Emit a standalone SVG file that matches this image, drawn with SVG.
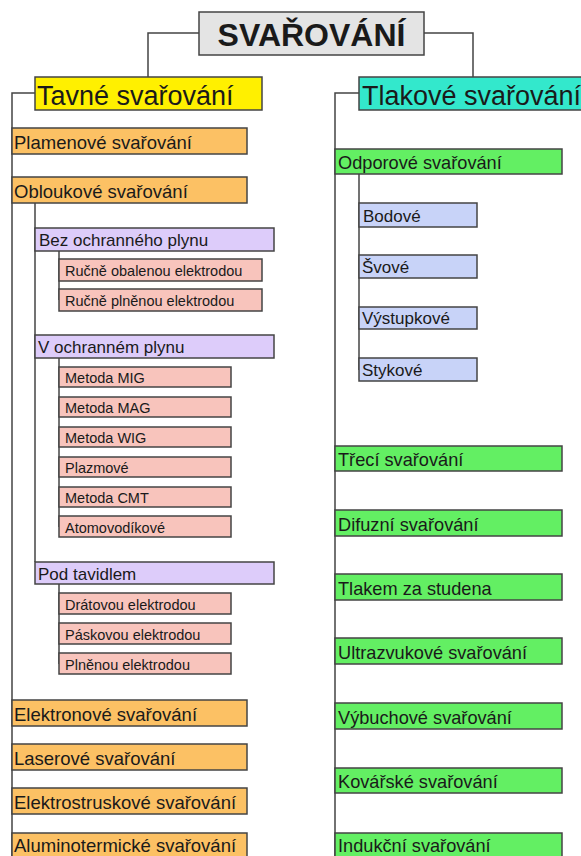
<svg xmlns="http://www.w3.org/2000/svg" width="581" height="856" viewBox="0 0 581 856">
<style>
.n rect{stroke:#444;stroke-width:1.5}
text{font-family:"Liberation Sans",Arial,sans-serif;fill:#1a1a1a}
.root{fill:#e4e4e4}
.yel{fill:#fff000}
.cya{fill:#33e8cc}
.ora{fill:#fcc164}
.pur{fill:#ddccfa}
.pin{fill:#f8c4bc}
.gre{fill:#63ef63}
.blu{fill:#c8d3f8}
.t1{font-size:18.5px}
.t2{font-size:17px}
.t3{font-size:14.5px}
.tb{font-size:17px}
.tg{font-size:18.2px}
.big{font-size:27px}
#conn path{fill:none;stroke:#444;stroke-width:1.5}
</style>
<rect width="581" height="856" fill="#fff"/>
<g id="conn">
<path d="M199 33H148V77"/>
<path d="M424 33H473V77"/>
<path d="M35 93H12V856"/>
<path d="M359 93H335V856"/>
<path d="M35 203V562"/>
<path d="M59 251V300"/>
<path d="M59 358V527"/>
<path d="M59 584V664"/>
<path d="M359 174V370"/>
</g>
<g id="root" class="n"><rect class="root" x="199" y="12" width="225" height="43"/><text x="311.5" y="46" text-anchor="middle" font-size="32" font-weight="bold">SVAŘOVÁNÍ</text></g>
<g id="tavne" class="n"><rect class="yel" x="35" y="77" width="227" height="33"/><text class="big" x="37" y="105">Tavné svařování</text></g>
<g id="tlakove" class="n"><rect class="cya" x="359" y="77" width="224" height="33"/><text class="big" x="362" y="105">Tlakové svařování</text></g>
<g id="plamenove" class="n"><rect class="ora" x="12" y="128" width="235" height="26"/><text class="t1" x="14" y="149">Plamenové svařování</text></g>
<g id="obloukove" class="n"><rect class="ora" x="12" y="177" width="235" height="26"/><text class="t1" x="14" y="198">Obloukové svařování</text></g>
<g id="bez" class="n"><rect class="pur" x="35" y="228" width="239" height="23"/><text class="t2" x="39" y="246">Bez ochranného plynu</text></g>
<g id="rucne-obal" class="n"><rect class="pin" x="59" y="259" width="203" height="22"/><text class="t3" x="65" y="276">Ručně obalenou elektrodou</text></g>
<g id="rucne-pln" class="n"><rect class="pin" x="59" y="289" width="203" height="22"/><text class="t3" x="65" y="306">Ručně plněnou elektrodou</text></g>
<g id="vochr" class="n"><rect class="pur" x="35" y="335" width="239" height="23"/><text class="t2" x="38" y="353">V ochranném plynu</text></g>
<g id="mig" class="n"><rect class="pin" x="59" y="367" width="172" height="20"/><text class="t3" x="65" y="383">Metoda MIG</text></g>
<g id="mag" class="n"><rect class="pin" x="59" y="397" width="172" height="20"/><text class="t3" x="65" y="413">Metoda MAG</text></g>
<g id="wig" class="n"><rect class="pin" x="59" y="427" width="172" height="20"/><text class="t3" x="65" y="443">Metoda WIG</text></g>
<g id="plazmove" class="n"><rect class="pin" x="59" y="457" width="172" height="20"/><text class="t3" x="65" y="473">Plazmové</text></g>
<g id="cmt" class="n"><rect class="pin" x="59" y="487" width="172" height="20"/><text class="t3" x="65" y="503">Metoda CMT</text></g>
<g id="atomo" class="n"><rect class="pin" x="59" y="516" width="172" height="21"/><text class="t3" x="65" y="533">Atomovodíkové</text></g>
<g id="pod" class="n"><rect class="pur" x="35" y="562" width="239" height="22"/><text class="t2" x="38" y="580">Pod tavidlem</text></g>
<g id="dratovou" class="n"><rect class="pin" x="59" y="593" width="172" height="21"/><text class="t3" x="65" y="610">Drátovou elektrodou</text></g>
<g id="paskovou" class="n"><rect class="pin" x="59" y="623" width="172" height="21"/><text class="t3" x="65" y="640">Páskovou elektrodou</text></g>
<g id="plnenou" class="n"><rect class="pin" x="59" y="653" width="172" height="21"/><text class="t3" x="65" y="670">Plněnou elektrodou</text></g>
<g id="elektronove" class="n"><rect class="ora" x="12" y="700" width="235" height="26"/><text class="t1" x="14" y="721">Elektronové svařování</text></g>
<g id="laserove" class="n"><rect class="ora" x="12" y="744" width="235" height="26"/><text class="t1" x="14" y="765">Laserové svařování</text></g>
<g id="elektrostrusk" class="n"><rect class="ora" x="12" y="788" width="235" height="26"/><text class="t1" x="14" y="809">Elektrostruskové svařování</text></g>
<g id="alumino" class="n"><rect class="ora" x="12" y="833" width="235" height="26"/><text class="t1" x="14" y="852">Aluminotermické svařování</text></g>
<g id="odporove" class="n"><rect class="gre" x="335" y="149" width="227" height="25"/><text class="tg" x="338" y="169">Odporové svařování</text></g>
<g id="bodove" class="n"><rect class="blu" x="359" y="203" width="118" height="24"/><text class="tb" x="363" y="222">Bodové</text></g>
<g id="svove" class="n"><rect class="blu" x="359" y="255" width="118" height="23"/><text class="tb" x="362" y="273">Švové</text></g>
<g id="vystupkove" class="n"><rect class="blu" x="359" y="307" width="118" height="22"/><text class="tb" x="362" y="324">Výstupkové</text></g>
<g id="stykove" class="n"><rect class="blu" x="359" y="358" width="118" height="23"/><text class="tb" x="362" y="376">Stykové</text></g>
<g id="treci" class="n"><rect class="gre" x="335" y="446" width="227" height="25"/><text class="tg" x="338" y="466">Třecí svařování</text></g>
<g id="difuzni" class="n"><rect class="gre" x="335" y="510" width="227" height="26"/><text class="tg" x="338" y="531">Difuzní svařování</text></g>
<g id="studena" class="n"><rect class="gre" x="335" y="574" width="227" height="26"/><text class="tg" x="338" y="595">Tlakem za studena</text></g>
<g id="ultrazvuk" class="n"><rect class="gre" x="335" y="638" width="227" height="26"/><text class="tg" x="338" y="659">Ultrazvukové svařování</text></g>
<g id="vybuchove" class="n"><rect class="gre" x="335" y="703" width="227" height="26"/><text class="tg" x="338" y="724">Výbuchové svařování</text></g>
<g id="kovarske" class="n"><rect class="gre" x="335" y="768" width="227" height="25"/><text class="tg" x="338" y="788">Kovářské svařování</text></g>
<g id="indukcni" class="n"><rect class="gre" x="335" y="833" width="227" height="26"/><text class="tg" x="338" y="852">Indukční svařování</text></g>
</svg>
